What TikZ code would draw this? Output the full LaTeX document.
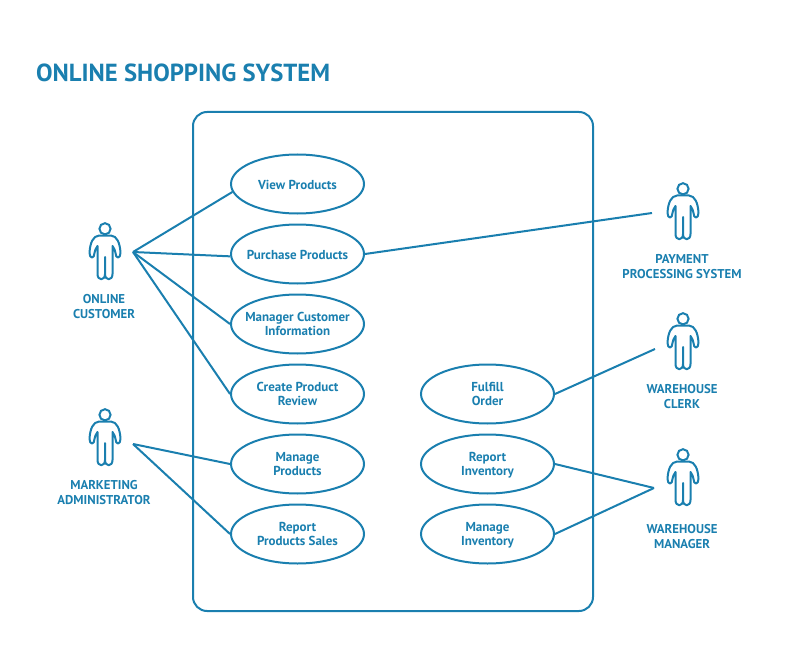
\documentclass[tikz,border=0pt]{standalone}
\usepackage{fontspec}
\setmainfont{PT Sans}
\usetikzlibrary{shapes.geometric}
\definecolor{umlblue}{HTML}{1A7FAF}
\tikzset{
  usecase/.style={draw=umlblue, ellipse, line width=2pt, minimum width=133pt, minimum height=59pt,
    inner sep=-20pt, align=center, text=umlblue, text depth=0pt, font=\fontsize{13}{14}\selectfont\bfseries},
  oneline/.style={text height=11pt},
  actorname/.style={align=center, text=umlblue, inner sep=0pt, font=\fontsize{12.8}{15}\selectfont\bfseries},
  link/.style={draw=umlblue, line width=2pt},
  actor/.pic={
    \draw[link] (0,5.8) circle (5.6);
    \draw[link, line join=round, line cap=round]
      (-6,12.5) .. controls (-12,13) and (-15,20) .. (-15.5,30)
      .. controls (-15.5,36) and (-10.5,36) .. (-10.5,30)
      .. controls (-10.5,28) and (-9,25) .. (-7.5,23)
      -- (-7.5,51) .. controls (-7.5,58) and (0,58) .. (0,51)
      -- (0,34)
      (0,51) .. controls (0,58) and (7.5,58) .. (7.5,51)
      -- (7.5,23)
      .. controls (9,25) and (10.5,28) .. (10.5,30)
      .. controls (10.5,36) and (15.5,36) .. (15.5,30)
      .. controls (15,20) and (12,13) .. (6,12.5) -- (-6,12.5);
  }
}
\begin{document}
\begin{tikzpicture}[x=1pt, y=-1pt]
  \useasboundingbox (0,0) rectangle (785,650);

  \node[anchor=west, inner sep=0pt, text=umlblue, font=\fontsize{24.7}{28}\selectfont\bfseries] (title) at (36,73) {ONLINE SHOPPING SYSTEM};
  \draw[link, rounded corners=14pt] (193,112) rectangle (593,611);

  % use cases
  \node[usecase, oneline] (view)     at (297.5,184) {View Products};
  \node[usecase, oneline] (purchase) at (297.5,254) {Purchase Products};
  \node[usecase] (manager)  at (297.5,324) {Manager Customer\\Information};
  \node[usecase] (review)   at (297.5,394) {Create Product\\Review};
  \node[usecase] (products) at (297.5,464) {Manage\\Products};
  \node[usecase] (sales)    at (297.5,534) {Report\\Products Sales};
  \node[usecase] (fulfill)  at (487.5,394) {Fulfill\\Order};
  \node[usecase] (report)   at (487.5,464) {Report\\Inventory};
  \node[usecase] (inventory) at (487.5,534) {Manage\\Inventory};

  % actors
  \pic at (105,223) {actor};
  \pic at (105,409) {actor};
  \pic at (683,183) {actor};
  \pic at (683,313) {actor};
  \pic at (683,449) {actor};

  \node[actorname] (customerlabel)  at (104,306.5) {ONLINE\\CUSTOMER};
  \node[actorname] (marketinglabel) at (104,492.5) {MARKETING\\ADMINISTRATOR};
  \node[actorname] (paymentlabel)   at (682,266.5) {PAYMENT\\PROCESSING SYSTEM};
  \node[actorname] (clerklabel)     at (682,396.5) {WAREHOUSE\\CLERK};
  \node[actorname] (wmanagerlabel)  at (682,536.5) {WAREHOUSE\\MANAGER};

  \coordinate (customer)  at (133,252);
  \coordinate (marketing) at (133,444);
  \coordinate (payment)   at (652,213);
  \coordinate (clerk)     at (655,349);
  \coordinate (wmanager)  at (654,488);

  % connectors
  \draw[link] (customer) -- (view.187);
  \draw[link] (customer) -- (purchase.182);
  \draw[link] (customer) -- (manager.west);
  \draw[link] (customer) -- (review.west);
  \draw[link] (marketing) -- (products.west);
  \draw[link] (marketing) -- (sales.west);
  \draw[link] (purchase.east) -- (payment);
  \draw[link] (fulfill.east) -- (clerk);
  \draw[link] (report.east) -- (wmanager);
  \draw[link] (inventory.east) -- (wmanager);
\end{tikzpicture}
\end{document}
